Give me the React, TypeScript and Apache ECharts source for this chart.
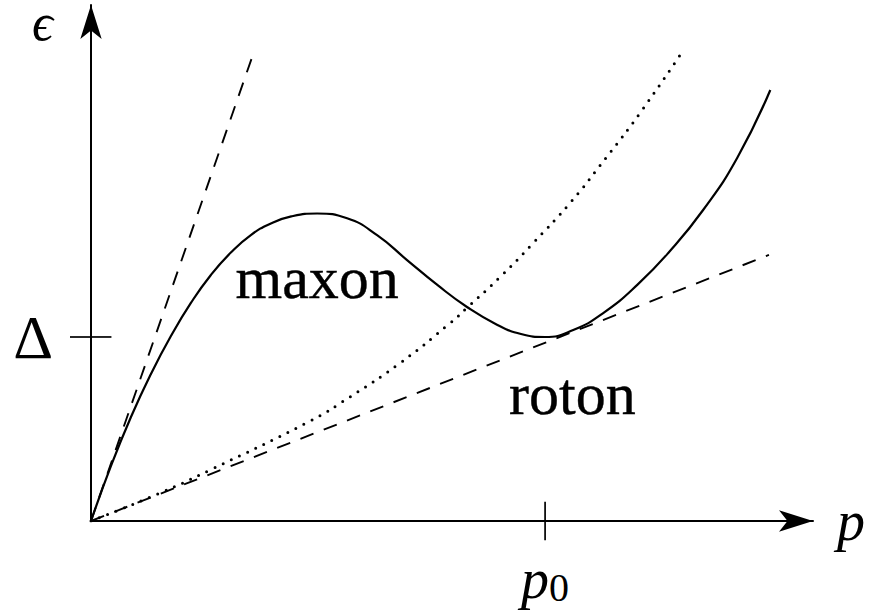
import { useEffect, useRef } from 'react';
import * as echarts from 'echarts';

// Momentum is measured in units of p0, energy in units of the roton gap Δ.
const P0 = 1;
const DELTA = 1;
const P_AXIS_MAX = 1.59;
const E_AXIS_MAX = 2.804;

// Excitation spectrum ε(p): phonon rise, maxon peak, roton minimum at (p0, Δ).
const dispersion: [number, number][] = [
  [0, 0],
  [0.044, 0.299],
  [0.088, 0.565],
  [0.132, 0.799],
  [0.176, 1.005],
  [0.22, 1.185],
  [0.264, 1.337],
  [0.308, 1.459],
  [0.352, 1.554],
  [0.396, 1.617],
  [0.441, 1.655],
  [0.498, 1.671],
  [0.564, 1.645],
  [0.63, 1.553],
  [0.696, 1.418],
  [0.762, 1.284],
  [0.828, 1.163],
  [0.894, 1.067],
  [0.947, 1.016],
  [1.0, 1.0],
  [1.062, 1.038],
  [1.128, 1.13],
  [1.203, 1.283],
  [1.275, 1.467],
  [1.348, 1.69],
  [1.423, 1.973],
  [1.496, 2.342],
];

// Free-particle-like branch (dotted).
const freeParticle: [number, number][] = [
  [0, 0],
  [0.152, 0.152],
  [0.262, 0.277],
  [0.482, 0.543],
  [0.57, 0.674],
  [0.681, 0.859],
  [0.791, 1.076],
  [0.83, 1.163],
  [0.901, 1.326],
  [0.974, 1.511],
  [1.057, 1.734],
  [1.134, 1.973],
  [1.209, 2.217],
  [1.302, 2.549],
];

// Phonon slope ε = c p (steep dashed) and the Landau critical line (shallow dashed).
const phononLine: [number, number][] = [
  [0, 0],
  [0.361, 2.565],
];
const landauLine: [number, number][] = [
  [0, 0],
  [1.493, 1.446],
];

const regionLabels = [
  { name: 'maxon', value: [0.498, 1.32] },
  { name: 'roton', value: [1.06, 0.69] },
];

// Crossing mark at p0 on the p axis; the Δ mark is split into an axis tick
// (left of the ε axis) and a short segment (right of it).
const p0Mark: [number, number][] = [
  [P0, -0.105],
  [P0, 0.105],
];
const deltaMark: [number, number][] = [
  [0, DELTA],
  [0.045, DELTA],
];

const SERIF = "'Liberation Serif', 'DejaVu Serif', serif";
const INK = '#000';

export default function App() {
  const ref = useRef<HTMLDivElement>(null);

  useEffect(() => {
    if (!ref.current) return;
    const chart = echarts.init(ref.current, null, { renderer: 'svg' });

    const arrowAxisLine = {
      show: true,
      symbol: ['none', 'arrow'],
      symbolSize: [16, 34],
      lineStyle: { color: INK, width: 2 },
    };

    chart.setOption({
      animation: false,
      backgroundColor: '#fff',
      textStyle: { fontFamily: SERIF, color: INK },
      grid: {
        left: 91,
        top: 5,
        right: 56,
        bottom: 89,
        containLabel: false,
        outerBoundsMode: 'none',
      },
      xAxis: {
        type: 'value',
        min: 0,
        max: P_AXIS_MAX,
        interval: 1,
        name: 'p',
        nameLocation: 'end',
        nameGap: 24,
        nameTextStyle: {
          fontFamily: SERIF,
          fontStyle: 'italic',
          fontSize: 56,
          lineHeight: 56,
          color: INK,
          align: 'left',
          verticalAlign: 'middle',
          padding: [0, 0, 16, 0],
        },
        axisLine: arrowAxisLine,
        axisTick: { show: false },
        splitLine: { show: false },
        axisLabel: {
          margin: 30,
          formatter: (v: number) => (v === P0 ? '{p|p}{s|0}' : ''),
          rich: {
            p: { fontFamily: SERIF, fontStyle: 'italic', fontSize: 56, lineHeight: 56, color: INK },
            s: { fontFamily: SERIF, fontSize: 40, lineHeight: 22, verticalAlign: 'bottom', color: INK },
          },
        },
      },
      yAxis: {
        type: 'value',
        min: 0,
        max: E_AXIS_MAX,
        interval: 1,
        name: 'ϵ',
        nameLocation: 'end',
        nameGap: -17,
        nameTextStyle: {
          fontFamily: SERIF,
          fontStyle: 'italic',
          fontSize: 52,
          lineHeight: 24,
          color: INK,
          align: 'right',
          verticalAlign: 'middle',
          padding: [0, 38, 0, 0],
        },
        axisLine: arrowAxisLine,
        axisTick: {
          show: true,
          inside: false,
          length: 21,
          customValues: [DELTA],
          lineStyle: { color: INK, width: 1.7 },
        },
        splitLine: { show: false },
        axisLabel: {
          margin: 38,
          fontFamily: SERIF,
          fontSize: 62,
          color: INK,
          formatter: (v: number) => (v === DELTA ? 'Δ' : ''),
        },
      },
      series: [
        {
          name: 'dispersion',
          type: 'line',
          data: dispersion,
          smooth: 0.5,
          showSymbol: false,
          lineStyle: { color: INK, width: 2.2 },
          z: 5,
        },
        {
          name: 'free particle',
          type: 'line',
          data: freeParticle,
          smooth: 0.5,
          showSymbol: false,
          lineStyle: { color: INK, width: 3, type: [0, 9], cap: 'round' },
        },
        {
          name: 'phonon',
          type: 'line',
          data: phononLine,
          showSymbol: false,
          lineStyle: { color: INK, width: 1.9, type: [14, 11] },
        },
        {
          name: 'Landau',
          type: 'line',
          data: landauLine,
          showSymbol: false,
          lineStyle: { color: INK, width: 1.9, type: [14, 11] },
        },
        {
          name: 'p0 mark',
          type: 'line',
          data: p0Mark,
          clip: false,
          showSymbol: false,
          lineStyle: { color: INK, width: 1.7 },
        },
        {
          name: 'Δ mark',
          type: 'line',
          data: deltaMark,
          clip: false,
          showSymbol: false,
          lineStyle: { color: INK, width: 1.7 },
        },
        {
          name: 'regions',
          type: 'scatter',
          data: regionLabels,
          symbolSize: 0,
          itemStyle: { opacity: 1, color: INK },
          label: {
            show: true,
            position: 'inside',
            formatter: '{b}',
            fontFamily: SERIF,
            fontSize: 60,
            color: INK,
            opacity: 1,
            textBorderColor: INK,
            textBorderWidth: 0.4,
          },
        },
      ],
    });

    return () => chart.dispose();
  }, []);

  return (
    <div
      ref={ref}
      style={{ position: 'absolute', left: 0, top: 0, width: 869, height: 610 }}
    />
  );
}
